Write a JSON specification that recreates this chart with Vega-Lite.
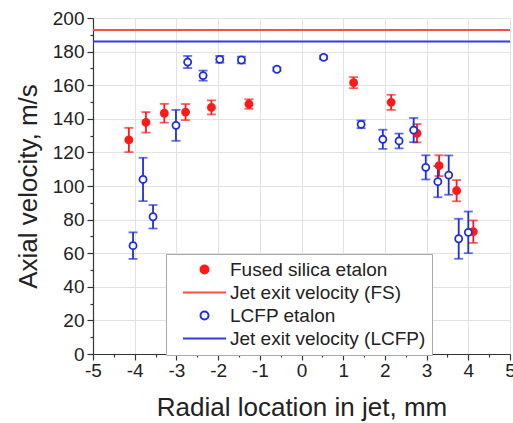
{
  "$schema": "https://vega.github.io/schema/vega-lite/v6.json",
  "width": 417,
  "height": 336,
  "autosize": {"type": "none"},
  "padding": {"left": 93, "top": 18, "right": 3, "bottom": 69},
  "background": "white",
  "config": {
    "view": {"stroke": null},
    "font": "Liberation Sans",
    "axis": {
      "labelFont": "Liberation Sans",
      "titleFont": "Liberation Sans",
      "labelFontSize": 19,
      "titleFontSize": 26,
      "titleFontWeight": "normal",
      "labelColor": "#222",
      "titleColor": "#222",
      "domainColor": "#333",
      "domainWidth": 1.2,
      "tickColor": "#333",
      "tickWidth": 1.2,
      "gridColor": "#e2e2e2",
      "gridWidth": 1
    },
    "legend": {
      "orient": "none",
      "legendX": 73,
      "legendY": 236,
      "strokeColor": "#aaa",
      "fillColor": "white",
      "padding": 6,
      "labelFont": "Liberation Sans",
      "labelFontSize": 19,
      "labelColor": "#222",
      "symbolSize": 64,
      "symbolStrokeWidth": 2,
      "symbolOffset": 23,
      "labelOffset": 16,
      "rowPadding": 3,
      "labelLimit": 400
    }
  },
  "datasets": {
    "pts": [
      {"s": "Fused silica etalon", "x": -4.14, "v": 127.4, "e": 7.2},
      {"s": "Fused silica etalon", "x": -3.73, "v": 137.9, "e": 6.1},
      {"s": "Fused silica etalon", "x": -3.29, "v": 143.3, "e": 5.6},
      {"s": "Fused silica etalon", "x": -2.78, "v": 144.0, "e": 4.8},
      {"s": "Fused silica etalon", "x": -2.16, "v": 146.8, "e": 4.2},
      {"s": "Fused silica etalon", "x": -1.26, "v": 148.8, "e": 2.8},
      {"s": "Fused silica etalon", "x": 1.25, "v": 161.5, "e": 3.3},
      {"s": "Fused silica etalon", "x": 2.15, "v": 149.8, "e": 4.5},
      {"s": "Fused silica etalon", "x": 2.77, "v": 131.4, "e": 5.5},
      {"s": "Fused silica etalon", "x": 3.30, "v": 112.1, "e": 6.2},
      {"s": "Fused silica etalon", "x": 3.72, "v": 97.2, "e": 6.3},
      {"s": "Fused silica etalon", "x": 4.12, "v": 72.8, "e": 6.7},
      {"s": "LCFP etalon", "x": -4.04, "v": 64.5, "e": 7.9},
      {"s": "LCFP etalon", "x": -3.80, "v": 103.9, "e": 12.9},
      {"s": "LCFP etalon", "x": -3.56, "v": 81.7, "e": 7.0},
      {"s": "LCFP etalon", "x": -3.01, "v": 136.1, "e": 9.2},
      {"s": "LCFP etalon", "x": -2.73, "v": 173.8, "e": 3.6},
      {"s": "LCFP etalon", "x": -2.36, "v": 165.7, "e": 3.0},
      {"s": "LCFP etalon", "x": -1.96, "v": 175.4, "e": 2.0},
      {"s": "LCFP etalon", "x": -1.44, "v": 175.0, "e": 2.0},
      {"s": "LCFP etalon", "x": -0.59, "v": 169.5, "e": 1.0},
      {"s": "LCFP etalon", "x": 0.53, "v": 176.6, "e": 1.0},
      {"s": "LCFP etalon", "x": 1.43, "v": 136.7, "e": 2.3},
      {"s": "LCFP etalon", "x": 1.95, "v": 127.8, "e": 5.7},
      {"s": "LCFP etalon", "x": 2.34, "v": 126.8, "e": 4.4},
      {"s": "LCFP etalon", "x": 2.69, "v": 133.3, "e": 7.2},
      {"s": "LCFP etalon", "x": 2.98, "v": 111.1, "e": 7.2},
      {"s": "LCFP etalon", "x": 3.27, "v": 102.6, "e": 9.3},
      {"s": "LCFP etalon", "x": 3.53, "v": 106.5, "e": 11.7},
      {"s": "LCFP etalon", "x": 3.77, "v": 68.6, "e": 11.9},
      {"s": "LCFP etalon", "x": 4.00, "v": 72.4, "e": 12.4}
    ],
    "lines": [
      {"s": "Jet exit velocity (FS)", "v": 192.8},
      {"s": "Jet exit velocity (LCFP)", "v": 186.0}
    ]
  },
  "layer": [
    {
      "data": {"name": "pts"},
      "transform": [{"filter": "datum.s === 'Fused silica etalon'"}],
      "mark": {"type": "errorbar", "ticks": true, "size": 9, "thickness": 1.8, "color": "#ff1a1a"},
      "encoding": {
        "x": {
          "field": "x", "type": "quantitative",
          "scale": {"domain": [-5, 5], "nice": false},
          "title": "Radial location in jet, mm",
          "axis": {
            "title": "Radial location in jet, mm",
            "values": [-5, -4.5, -4, -3.5, -3, -2.5, -2, -1.5, -1, -0.5, 0, 0.5, 1, 1.5, 2, 2.5, 3, 3.5, 4, 4.5, 5],
            "labelExpr": "datum.value % 1 === 0 ? '' + datum.value : ''",
            "tickSize": {"condition": {"test": "datum.value % 1 === 0", "value": 6}, "value": 3},
            "gridOpacity": {"condition": {"test": "datum.value % 1 === 0", "value": 1}, "value": 0},
            "labelPadding": 1, "titlePadding": 14, "labelFlush": false, "labelOverlap": false
          }
        },
        "y": {
          "field": "v", "type": "quantitative",
          "scale": {"domain": [0, 200], "nice": false},
          "title": "Axial velocity, m/s",
          "axis": {
            "title": "Axial velocity, m/s",
            "values": [0, 10, 20, 30, 40, 50, 60, 70, 80, 90, 100, 110, 120, 130, 140, 150, 160, 170, 180, 190, 200],
            "labelExpr": "datum.value % 20 === 0 ? '' + datum.value : ''",
            "tickSize": {"condition": {"test": "datum.value % 20 === 0", "value": 6}, "value": 3},
            "gridOpacity": {"condition": {"test": "datum.value % 20 === 0", "value": 1}, "value": 0},
            "labelPadding": 3, "titlePadding": 11, "labelFlush": false, "labelOverlap": false
          }
        },
        "yError": {"field": "e"}
      }
    },
    {
      "data": {"name": "pts"},
      "transform": [{"filter": "datum.s === 'LCFP etalon'"}],
      "mark": {"type": "errorbar", "ticks": true, "size": 9, "thickness": 1.8, "color": "#1f2fd8"},
      "encoding": {
        "x": {
          "field": "x", "type": "quantitative",
          "title": "Radial location in jet, mm",
          "axis": {
            "title": "Radial location in jet, mm",
            "values": [-5, -4.5, -4, -3.5, -3, -2.5, -2, -1.5, -1, -0.5, 0, 0.5, 1, 1.5, 2, 2.5, 3, 3.5, 4, 4.5, 5],
            "labelExpr": "datum.value % 1 === 0 ? '' + datum.value : ''",
            "tickSize": {"condition": {"test": "datum.value % 1 === 0", "value": 6}, "value": 3},
            "gridOpacity": {"condition": {"test": "datum.value % 1 === 0", "value": 1}, "value": 0},
            "labelPadding": 1, "titlePadding": 14, "labelFlush": false, "labelOverlap": false
          }
        },
        "y": {
          "field": "v", "type": "quantitative",
          "title": "Axial velocity, m/s",
          "axis": {
            "title": "Axial velocity, m/s",
            "values": [0, 10, 20, 30, 40, 50, 60, 70, 80, 90, 100, 110, 120, 130, 140, 150, 160, 170, 180, 190, 200],
            "labelExpr": "datum.value % 20 === 0 ? '' + datum.value : ''",
            "tickSize": {"condition": {"test": "datum.value % 20 === 0", "value": 6}, "value": 3},
            "gridOpacity": {"condition": {"test": "datum.value % 20 === 0", "value": 1}, "value": 0},
            "labelPadding": 3, "titlePadding": 11, "labelFlush": false, "labelOverlap": false
          }
        },
        "yError": {"field": "e"}
      }
    },
    {
      "data": {"name": "lines"},
      "mark": {"type": "rule", "strokeWidth": 2},
      "encoding": {
        "y": {
          "field": "v", "type": "quantitative",
          "title": "Axial velocity, m/s",
          "axis": {
            "title": "Axial velocity, m/s",
            "values": [0, 10, 20, 30, 40, 50, 60, 70, 80, 90, 100, 110, 120, 130, 140, 150, 160, 170, 180, 190, 200],
            "labelExpr": "datum.value % 20 === 0 ? '' + datum.value : ''",
            "tickSize": {"condition": {"test": "datum.value % 20 === 0", "value": 6}, "value": 3},
            "gridOpacity": {"condition": {"test": "datum.value % 20 === 0", "value": 1}, "value": 0},
            "labelPadding": 3, "titlePadding": 11, "labelFlush": false, "labelOverlap": false
          }
        },
        "stroke": {
          "field": "s", "type": "nominal",
          "scale": {
            "domain": ["Fused silica etalon", "Jet exit velocity (FS)", "LCFP etalon", "Jet exit velocity (LCFP)"],
            "range": ["#ff1a1a", "#ff4a4a", "#1f2fd8", "#3a3ae0"]
          },
          "legend": {"title": null}
        }
      }
    },
    {
      "data": {"name": "pts"},
      "mark": {"type": "point", "size": 50, "strokeWidth": 1.8, "opacity": 1},
      "encoding": {
        "x": {
          "field": "x", "type": "quantitative",
          "title": "Radial location in jet, mm",
          "axis": {
            "title": "Radial location in jet, mm",
            "values": [-5, -4.5, -4, -3.5, -3, -2.5, -2, -1.5, -1, -0.5, 0, 0.5, 1, 1.5, 2, 2.5, 3, 3.5, 4, 4.5, 5],
            "labelExpr": "datum.value % 1 === 0 ? '' + datum.value : ''",
            "tickSize": {"condition": {"test": "datum.value % 1 === 0", "value": 6}, "value": 3},
            "gridOpacity": {"condition": {"test": "datum.value % 1 === 0", "value": 1}, "value": 0},
            "labelPadding": 1, "titlePadding": 14, "labelFlush": false, "labelOverlap": false
          }
        },
        "y": {
          "field": "v", "type": "quantitative",
          "title": "Axial velocity, m/s",
          "axis": {
            "title": "Axial velocity, m/s",
            "values": [0, 10, 20, 30, 40, 50, 60, 70, 80, 90, 100, 110, 120, 130, 140, 150, 160, 170, 180, 190, 200],
            "labelExpr": "datum.value % 20 === 0 ? '' + datum.value : ''",
            "tickSize": {"condition": {"test": "datum.value % 20 === 0", "value": 6}, "value": 3},
            "gridOpacity": {"condition": {"test": "datum.value % 20 === 0", "value": 1}, "value": 0},
            "labelPadding": 3, "titlePadding": 11, "labelFlush": false, "labelOverlap": false
          }
        },
        "shape": {
          "field": "s", "type": "nominal",
          "scale": {
            "domain": ["Fused silica etalon", "Jet exit velocity (FS)", "LCFP etalon", "Jet exit velocity (LCFP)"],
            "range": ["circle", "M-5.4,0H5.4", "circle", "M-5.4,0H5.4"]
          },
          "legend": {"title": null}
        },
        "fill": {
          "field": "s", "type": "nominal",
          "scale": {
            "domain": ["Fused silica etalon", "Jet exit velocity (FS)", "LCFP etalon", "Jet exit velocity (LCFP)"],
            "range": ["#ff1a1a", "transparent", "#ffffff", "transparent"]
          },
          "legend": {"title": null}
        },
        "stroke": {"field": "s", "type": "nominal", "legend": {"title": null}}
      }
    }
  ]
}
